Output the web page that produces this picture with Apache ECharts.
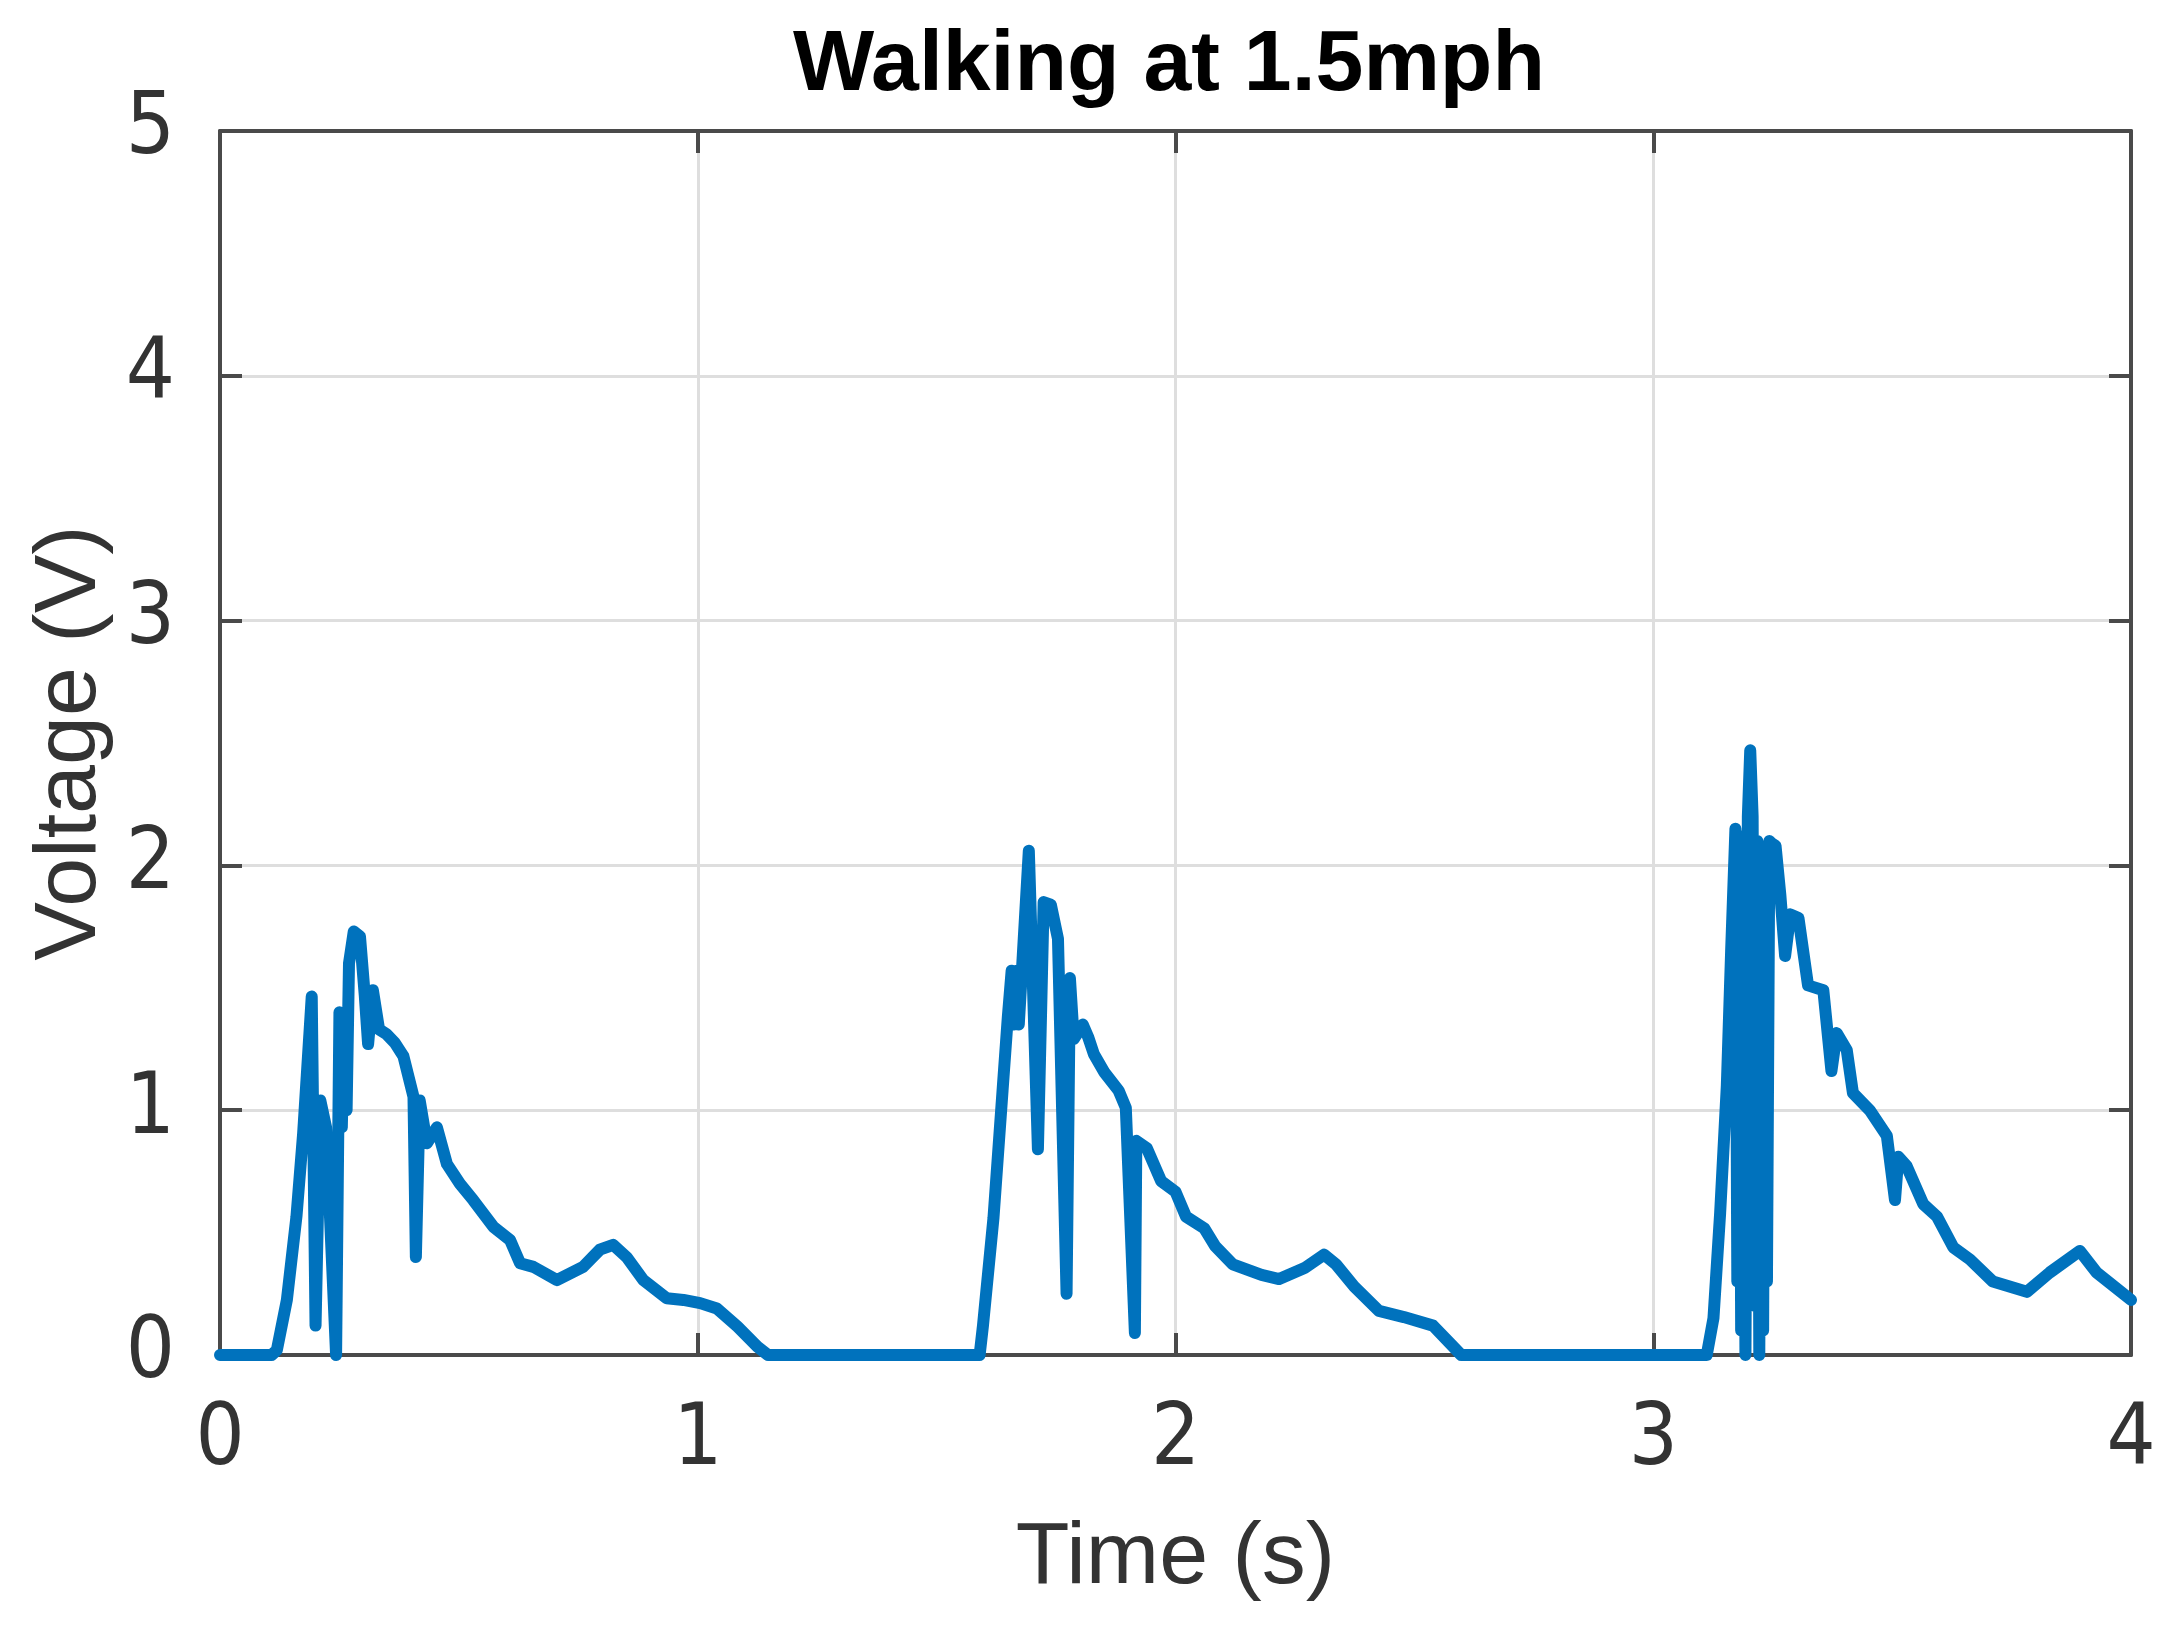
<!DOCTYPE html>
<html>
<head>
<meta charset="utf-8">
<script src="https://cdn.jsdelivr.net/npm/echarts@6/dist/echarts.min.js"></script>
<style>
  html, body { margin: 0; padding: 0; background: #ffffff; }
  #chart { width: 2168px; height: 1635px; }
</style>
</head>
<body>
<div id="chart"></div>
<script>
// ---- Data ----
const chartTitle = "Walking at 1.5mph";
const xAxisName = "Time (s)";
const yAxisName = "Voltage (V)";

const xTicks = [0, 1, 2, 3, 4];
const yTicks = [0, 1, 2, 3, 4, 5];

// time in seconds
const time = [
  0, 0.108, 0.119, 0.14, 0.16, 0.174, 0.185, 0.192, 0.2, 0.21, 0.222, 0.243,
  0.25, 0.255, 0.26, 0.265, 0.27, 0.28, 0.293, 0.303, 0.31, 0.32, 0.333, 0.349, 0.366,
  0.384, 0.405, 0.41, 0.418, 0.433, 0.454, 0.475, 0.502, 0.53, 0.572, 0.607,
  0.628, 0.656, 0.705, 0.76, 0.795, 0.823, 0.851, 0.886, 0.935, 0.97, 1.005,
  1.04, 1.083, 1.125, 1.147,
  1.59, 1.597, 1.619, 1.638, 1.649, 1.657, 1.662, 1.667, 1.672, 1.693, 1.712,
  1.724, 1.739, 1.754, 1.772, 1.779, 1.787, 1.806, 1.817, 1.829, 1.851, 1.881,
  1.896, 1.915, 1.918, 1.94, 1.97, 2.0, 2.022, 2.06, 2.083, 2.12, 2.18, 2.217,
  2.27, 2.311, 2.336, 2.374, 2.426, 2.478, 2.539, 2.576, 2.598,
  3.112, 3.126, 3.14, 3.154, 3.163, 3.172, 3.176, 3.18, 3.184, 3.188, 3.193, 3.198,
  3.203, 3.208, 3.213, 3.218, 3.222, 3.226, 3.23, 3.234, 3.238, 3.243, 3.248,
  3.256, 3.266, 3.276, 3.287, 3.304, 3.324,
  3.356, 3.373, 3.384, 3.405, 3.418, 3.453, 3.489, 3.506, 3.513, 3.53, 3.565,
  3.594, 3.628, 3.663, 3.711, 3.782, 3.83, 3.893, 3.928, 4.0
];

// voltage in volts
const voltage = [
  0, 0, 0.02, 0.225, 0.565, 0.905, 1.246, 1.464, 0.12, 1.04, 0.93, 0,
  1.40, 0.93, 1.38, 1.0, 1.6, 1.73, 1.71, 1.47, 1.27, 1.49, 1.33, 1.31, 1.275,
  1.22, 1.055, 0.40, 1.04, 0.865, 0.93, 0.78, 0.70, 0.633, 0.524, 0.47,
  0.375, 0.36, 0.306, 0.36, 0.43, 0.45, 0.40, 0.306, 0.232, 0.225, 0.212,
  0.19, 0.116, 0.034, 0,
  0, 0.12, 0.56, 1.08, 1.38, 1.57, 1.35, 1.57, 1.35, 2.06, 0.84,
  1.85, 1.84, 1.70, 0.25, 1.54, 1.29, 1.35, 1.30, 1.23, 1.155, 1.08,
  1.01, 0.09, 0.875, 0.845, 0.71, 0.667, 0.565, 0.518, 0.445, 0.37, 0.327, 0.31,
  0.355, 0.41, 0.37, 0.28, 0.18, 0.155, 0.12, 0.045, 0,
  0, 0.15, 0.58, 1.10, 1.65, 2.15, 0.3, 2.12, 0.1, 2.1, 0, 2.2,
  2.47, 2.2, 0.2, 2.1, 0, 2.05, 0.1, 2.0, 0.3, 2.1, 2.09,
  2.08, 1.88, 1.63, 1.80, 1.785, 1.51,
  1.49, 1.16, 1.315, 1.246, 1.07, 1.0, 0.895, 0.633, 0.81, 0.773, 0.617,
  0.565, 0.44, 0.39, 0.30, 0.258, 0.337, 0.425, 0.337, 0.225
];

// ---- Chart ----
const seriesData = time.map((t, i) => [t, voltage[i]]);
const xMin = xTicks[0], xMax = xTicks[xTicks.length - 1], xStep = xTicks[1] - xTicks[0];
const yMin = yTicks[0], yMax = yTicks[yTicks.length - 1], yStep = yTicks[1] - yTicks[0];

const labelFont = "'Liberation Sans Narrow', 'Arial Narrow', 'DejaVu Sans Condensed', 'Liberation Sans', sans-serif";
const nameFont = "'Liberation Sans', Arial, sans-serif";
const axisColor = '#4a4a4a';
const textColor = '#333333';

const chart = echarts.init(document.getElementById('chart'), null, { renderer: 'canvas' });

function boxAxis(base) {
  return Object.assign({
    type: 'value',
    axisLine: { show: true, onZero: false, lineStyle: { color: axisColor, width: 4 } },
    axisTick: { show: true, inside: true, length: 22, lineStyle: { color: axisColor, width: 4 } },
    axisLabel: { show: false },
    splitLine: { show: false }
  }, base);
}

chart.setOption({
  animation: false,
  backgroundColor: '#ffffff',
  title: {
    text: chartTitle,
    left: 1164,
    textAlign: 'center',
    top: 18,
    textStyle: { fontFamily: nameFont, fontWeight: 'bold', fontSize: 86, color: '#000000' }
  },
  grid: { left: 220, right: 37, top: 131, bottom: 280, containLabel: false },
  xAxis: [
    {
      type: 'value', min: xMin, max: xMax, interval: xStep, position: 'bottom',
      name: xAxisName, nameLocation: 'middle', nameGap: 160,
      nameTextStyle: { fontFamily: nameFont, fontSize: 88, color: textColor },
      axisLine: { show: true, onZero: false, lineStyle: { color: axisColor, width: 4 } },
      axisTick: { show: true, inside: true, length: 22, lineStyle: { color: axisColor, width: 4 } },
      axisLabel: { show: true, margin: 44, fontFamily: labelFont, fontSize: 86, color: textColor },
      splitLine: { show: true, lineStyle: { color: '#dedede', width: 3 } }
    },
    boxAxis({ min: xMin, max: xMax, interval: xStep, position: 'top' })
  ],
  yAxis: [
    {
      type: 'value', min: yMin, max: yMax, interval: yStep, position: 'left',
      name: yAxisName, nameLocation: 'middle', nameGap: 105, nameRotate: 90,
      nameTextStyle: { fontFamily: nameFont, fontSize: 88, color: textColor },
      axisLine: { show: true, onZero: false, lineStyle: { color: axisColor, width: 4 } },
      axisTick: { show: true, inside: true, length: 22, lineStyle: { color: axisColor, width: 4 } },
      axisLabel: { show: true, margin: 45, fontFamily: labelFont, fontSize: 86, color: textColor },
      splitLine: { show: true, lineStyle: { color: '#dedede', width: 3 } }
    },
    boxAxis({ min: yMin, max: yMax, interval: yStep, position: 'right' })
  ],
  series: [{
    type: 'line',
    xAxisIndex: 0,
    yAxisIndex: 0,
    data: seriesData,
    showSymbol: false,
    clip: false,
    lineStyle: { color: '#0072BD', width: 12, join: 'round', cap: 'round' },
    z: 5
  }]
});
</script>
</body>
</html>
